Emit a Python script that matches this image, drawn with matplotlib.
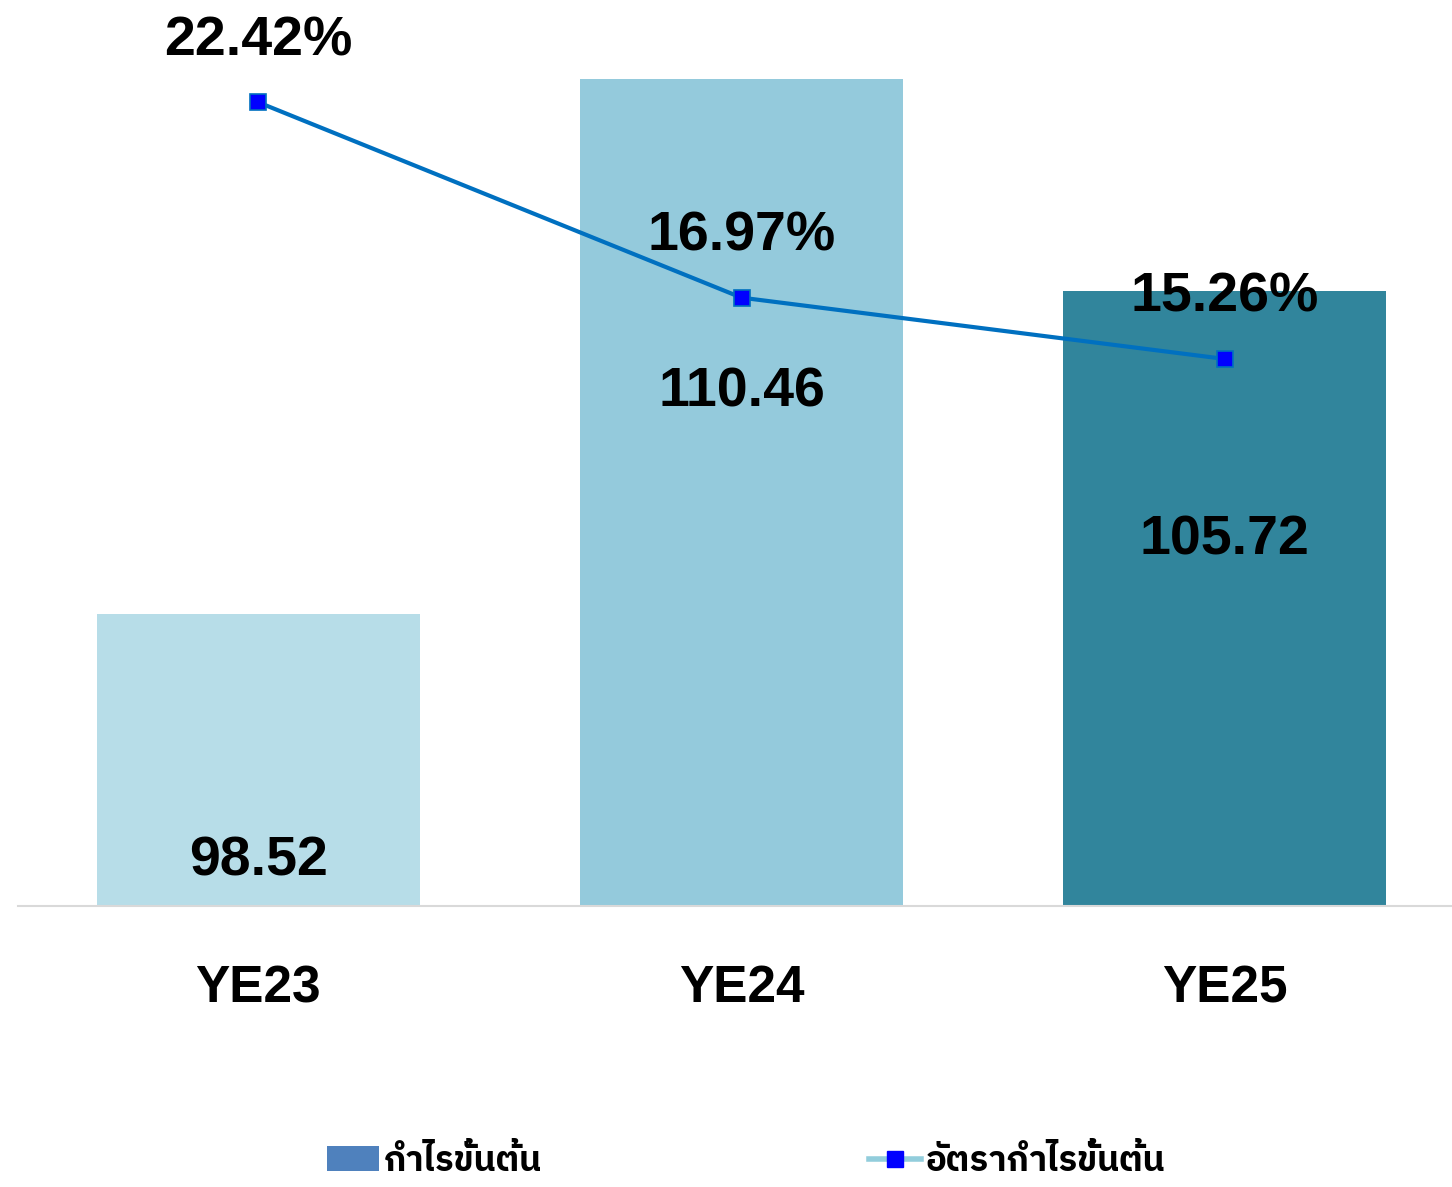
import matplotlib
matplotlib.use('Agg')
from matplotlib import pyplot as plt
from matplotlib import font_manager
from matplotlib.ft2font import FT2Font
from matplotlib.lines import Line2D
from matplotlib.patches import Patch

# Data
years = ['YE23', 'YE24', 'YE25']
gross_profit = [98.52, 110.46, 105.72]
gross_margin = [22.42, 16.97, 15.26]
bar_colors = ['#b7dde8', '#94cadc', '#31859c']
legend_labels = ['กำไรขั้นต้น', 'อัตรากำไรขั้นต้น']

# where the bar value labels sit (data units on the left axis)
label_y = [93.0, 103.45, 100.15]


def find_thai_family():
    # look for installed fonts that have Thai glyphs, prefer a sans one
    found = []
    for f in font_manager.fontManager.ttflist:
        try:
            cmap = FT2Font(f.fname).get_charmap()
        except Exception:
            continue
        if 0x0E01 in cmap and 0x0E33 in cmap:
            found.append(f.name)
    for name in found:
        if 'sans' in name.lower() and 'serif' not in name.lower():
            return name
    return found[0] if found else None


thai = find_thai_family()
families = ['Liberation Sans', 'Noto Sans', 'DejaVu Sans']
if thai:
    families.insert(1, thai)
plt.rcParams['font.family'] = families

fig = plt.figure(figsize=(14.52, 11.87), dpi=100)
ax = fig.add_axes([0.0124, 0.2367, 0.9876, 0.7463])
x = range(len(years))

ax.bar(x, gross_profit, width=0.668, color=bar_colors)
ax.set_ylim(92, 111.77)
ax.set_xlim(-0.497, 2.47)

for i, v in enumerate(gross_profit):
    ax.text(i, label_y[i], '{:.2f}'.format(v), ha='center', va='center',
            fontsize=40, fontweight='bold', color='black', zorder=5)

for s in ['top', 'right', 'left']:
    ax.spines[s].set_visible(False)
ax.spines['bottom'].set_color('#d9d9d9')
ax.spines['bottom'].set_linewidth(1.5)
ax.set_yticks([])
ax.set_xticks(list(x))
ax.set_xticklabels(years, fontsize=37, fontweight='bold')
ax.tick_params(axis='x', length=0, pad=42)

# Margin line on secondary axis
ax2 = ax.twinx()
ax2.plot(x, gross_margin, color='#0070c0', linewidth=3, marker='s',
         markersize=11, markerfacecolor='#0000ff', markeredgecolor='#0070c0',
         markeredgewidth=1.2, zorder=4)
ax2.set_ylim(0, 24.71)
ax2.set_yticks([])
for s in ax2.spines.values():
    s.set_visible(False)
ax2.set_xlim(ax.get_xlim())

for i, v in enumerate(gross_margin):
    ax2.annotate('{:.2f}%'.format(v), (i, v), xytext=(0, 44),
                 textcoords='offset points', ha='center', va='center',
                 fontsize=40, fontweight='bold', color='black', zorder=6)

# Legend
handles = [Patch(facecolor='#4f81bd'),
           Line2D([0], [0], color='#92cddc', linewidth=4, marker='s',
                  markersize=12, markerfacecolor='#0000ff',
                  markeredgecolor='#0000ff')]
fig.legend(handles, legend_labels, loc='upper center',
           bbox_to_anchor=(0.514, 0.062), ncol=2, frameon=False,
           prop={'size': 25, 'weight': 'bold'}, columnspacing=9.4,
           handlelength=1.5, handletextpad=0.15)

plt.savefig('out.png', dpi=100)
